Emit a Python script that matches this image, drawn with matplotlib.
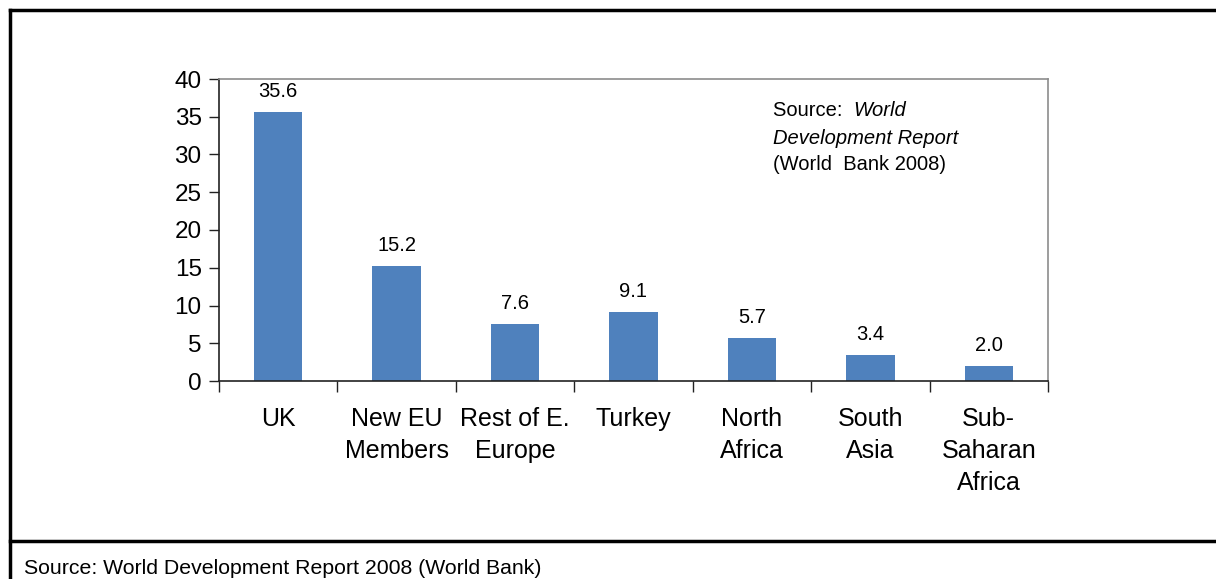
import matplotlib
matplotlib.use("Agg")
import matplotlib.pyplot as plt
from matplotlib.lines import Line2D

plt.rcParams['font.family'] = ['Liberation Sans', 'DejaVu Sans']

categories = ["UK", "New EU\nMembers", "Rest of E.\nEurope", "Turkey",
              "North\nAfrica", "South\nAsia", "Sub-\nSaharan\nAfrica"]
values = [35.6, 15.2, 7.6, 9.1, 5.7, 3.4, 2.0]
yticks = [0, 5, 10, 15, 20, 25, 30, 35, 40]

W, H = 1216, 579
fig = plt.figure(figsize=(W / 100, H / 100), dpi=100)

ax = fig.add_axes([219 / W, 1 - 381 / H, (1048 - 219) / W, (381 - 79) / H])
x = list(range(len(categories)))
ax.bar(x, values, width=0.41, color="#4F81BD", zorder=2)
for xi, v in zip(x, values):
    ax.annotate(f"{v:.1f}", (xi, v), xytext=(0, 8), textcoords="offset points",
                ha="center", va="bottom", fontsize=14.5)

ax.set_xlim(-0.5, len(categories) - 0.5)
ax.set_ylim(0, 40)
ax.set_yticks(yticks)
ax.tick_params(axis="y", direction="out", length=7, width=1, color="#222222",
               labelsize=17.5, pad=5.5)
ax.set_xticks([i - 0.5 for i in range(len(categories) + 1)], minor=False)
ax.set_xticklabels([])
ax.tick_params(axis="x", direction="out", length=8, width=1, color="#222222")
ax.set_xticks(x, minor=True)
ax.set_xticklabels(categories, minor=True, fontsize=18, linespacing=1.4, va="top")
ax.tick_params(axis="x", which="minor", length=0, pad=19)

for side in ("left", "bottom"):
    ax.spines[side].set_color("#222222")
    ax.spines[side].set_linewidth(1.2)
for side in ("top", "right"):
    ax.spines[side].set_color("#8c8c8c")
    ax.spines[side].set_linewidth(1.2)

# source note inside the plot area
note_x = (773 - 219) / (1048 - 219)
t1 = ax.text(note_x, 1 - (110 - 79) / 302, "Source:  ", transform=ax.transAxes,
             fontsize=14.5, va="center", ha="left")
ax.annotate("World", xy=(1, 0), xycoords=t1, fontsize=14.5, va="bottom",
            ha="left", style="italic")
ax.text(note_x, 1 - (138 - 79) / 302, "Development Report", transform=ax.transAxes,
        fontsize=14.5, va="center", ha="left", style="italic")
ax.text(note_x, 1 - (164 - 79) / 302, "(World  Bank 2008)", transform=ax.transAxes,
        fontsize=14.5, va="center", ha="left")

# outer frame
frame_kw = dict(color="black", linewidth=2.5, transform=fig.transFigure)
fig.add_artist(Line2D([10 / W, 10 / W], [0, 1 - 10 / H], **frame_kw))
fig.add_artist(Line2D([10 / W, 1], [1 - 10 / H, 1 - 10 / H], **frame_kw))
fig.add_artist(Line2D([10 / W, 1], [1 - 541 / H, 1 - 541 / H], **frame_kw))

fig.text(24 / W, 1 - 569 / H, "Source: World Development Report 2008 (World Bank)",
         fontsize=15.3, va="center", ha="left")

fig.savefig("out.png", dpi=100, facecolor="white")
